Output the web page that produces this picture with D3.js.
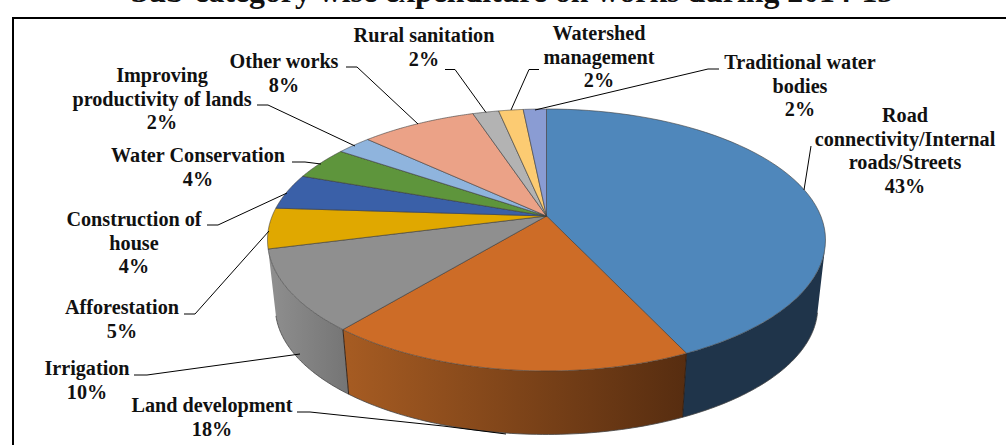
<!DOCTYPE html>
<html>
<head>
<meta charset="utf-8">
<script src="https://cdn.jsdelivr.net/npm/d3@7"></script>
<style>
  html, body { margin: 0; padding: 0; background: #fff; overflow: hidden; }
  text { font-family: "Liberation Serif", serif; font-weight: bold; fill: #111; }
</style>
</head>
<body>
<div id="chart"></div>
<script>
const title = "Sub-category wise expenditure on works during 2014-15";

const categories = [
  "Road connectivity/Internal roads/Streets",
  "Land development",
  "Irrigation",
  "Afforestation",
  "Construction of house",
  "Water Conservation",
  "Improving productivity of lands",
  "Other works",
  "Rural sanitation",
  "Watershed management",
  "Traditional water bodies",
];
const values = [43, 18, 10, 5, 4.4, 4.1, 2.4, 8, 1.8, 1.7, 1.6];

const faceColors = ["#4f87bb", "#cd6c27", "#8f8f8f", "#e0a800", "#3a60a8", "#5e953c", "#8fb4dd", "#eba287", "#b3b3b3", "#fccb72", "#8a9cd3"];

// label lines, centre x and first baseline, same order as categories
const labelLines = [
  ["Road", "connectivity/Internal", "roads/Streets"],
  ["Land development"],
  ["Irrigation"],
  ["Afforestation"],
  ["Construction of", "house"],
  ["Water Conservation"],
  ["Improving", "productivity of lands"],
  ["Other works"],
  ["Rural sanitation"],
  ["Watershed", "management"],
  ["Traditional water", "bodies"],
];
const labelX = [905, 212, 87, 122, 134, 198, 162, 284, 424, 599, 800];
const labelY = [122, 412, 375, 314, 226, 162, 82, 68, 42, 40, 69];

const leaders = [
  [[811, 146], [804, 190]],
  [[297, 412], [310, 412], [443, 426], [506, 434]],
  [[134, 375], [147, 375], [300, 354]],
  [[184, 314], [195, 314], [269, 231]],
  [[207, 225], [218, 225], [287, 193]],
  [[292, 162], [305, 162], [321, 164]],
  [[257, 105], [268, 105], [355, 146]],
  [[346, 67], [357, 67], [418, 124]],
  [[445, 69.5], [455, 69.5], [486, 112.5]],
  [[539, 69.5], [529, 69.5], [511, 110]],
  [[719, 69], [708, 69], [535, 110]],
];

const width = 1006, height = 445;

const svg = d3
  .select("#chart")
  .append("svg")
  .attr("width", width)
  .attr("height", height)
  .style("display", "block");

// frame, runs off the right and bottom of the picture
svg
  .append("path")
  .attr("d", d3.line()([[width + 5, 18], [13, 18], [13, height + 5]]))
  .attr("fill", "none")
  .attr("stroke", "#000")
  .attr("stroke-width", 2);

svg
  .append("text")
  .attr("x", 512)
  .attr("y", 2)
  .attr("text-anchor", "middle")
  .style("font-size", "31.8px")
  .text(title);

// perspective pie: the unit circle goes through a projective map
const cx = 546.5, cy = 216;
const persp = -0.183, spreadX = 274.3, spreadY = 126.6;
const wallScale = 0.972, vanishY = 2639;

const project = (angle, s = 1) => {
  const u = Math.sin(angle), v = -Math.cos(angle), w = 1 + persp * v;
  return [cx + (spreadX * u * s) / w, vanishY + (cy + (spreadY * v) / w - vanishY) * s];
};

const arcs = d3.pie().sort(null)(values);
const line = d3.line();
const steps = (a0, a1) => d3.range(0, 61).map((i) => a0 + ((a1 - a0) * i) / 60);

const defs = svg.append("defs");
const wallGradient = (id, x1, x2, c1, c2) => {
  const g = defs
    .append("linearGradient")
    .attr("id", id)
    .attr("gradientUnits", "userSpaceOnUse")
    .attr("x1", x1)
    .attr("x2", x2)
    .attr("y1", 0)
    .attr("y2", 0);
  g.append("stop").attr("offset", 0).attr("stop-color", c1);
  g.append("stop").attr("offset", 1).attr("stop-color", c2);
};
wallGradient("wall-land", 350, 685, "#a55b22", "#572d10");
wallGradient("wall-irrigation", 272, 350, "#8e8e8e", "#747474");

// where the side wall leaves the rim on the right, about 103 degrees round
const wallStart = (103 * Math.PI) / 180;

// only the front three slices show a side wall
const walls = [
  { index: 0, start: wallStart, fill: "#1f344a" },
  { index: 1, start: arcs[1].startAngle, fill: "url(#wall-land)" },
  { index: 2, start: arcs[2].startAngle, fill: "url(#wall-irrigation)" },
];

walls.forEach((w) => {
  const angles = steps(w.start, arcs[w.index].endAngle);
  const top = angles.map((a) => project(a));
  const bottom = angles.map((a) => project(a, wallScale)).reverse();
  svg
    .append("path")
    .attr("d", line(top.concat(bottom)) + "Z")
    .attr("fill", w.fill)
    .attr("stroke", "none");
  svg
    .append("path")
    .attr("d", line(bottom))
    .attr("fill", "none")
    .attr("stroke", "#444")
    .attr("stroke-width", 0.8);
});

[arcs[0].endAngle, arcs[1].endAngle].forEach((a) => {
  svg
    .append("path")
    .attr("d", line([project(a), project(a, wallScale)]))
    .attr("stroke", "#2a1a10")
    .attr("stroke-width", 0.9)
    .attr("fill", "none");
});

svg
  .selectAll(".slice")
  .data(arcs)
  .enter()
  .append("path")
  .attr("class", "slice")
  .attr("d", (d) => line([[cx, cy]].concat(steps(d.startAngle, d.endAngle).map((a) => project(a)))) + "Z")
  .attr("fill", (d, i) => faceColors[i])
  .attr("stroke", "#3c3c3c")
  .attr("stroke-opacity", 0.75)
  .attr("stroke-width", 0.8)
  .attr("stroke-linejoin", "round");

svg
  .selectAll(".leader")
  .data(leaders)
  .enter()
  .append("path")
  .attr("class", "leader")
  .attr("d", (d) => line(d))
  .attr("fill", "none")
  .attr("stroke", "#000")
  .attr("stroke-width", 1);

const lineStep = 23.7;
categories.forEach((name, i) => {
  const label = svg
    .append("text")
    .attr("x", labelX[i])
    .attr("y", labelY[i])
    .attr("text-anchor", "middle")
    .style("font-size", "20.2px");
  labelLines[i].concat(d3.format(".0f")(values[i]) + "%").forEach((t, j) => {
    label
      .append("tspan")
      .attr("x", labelX[i])
      .attr("y", labelY[i] + j * lineStep)
      .text(t);
  });
});
</script>
</body>
</html>
